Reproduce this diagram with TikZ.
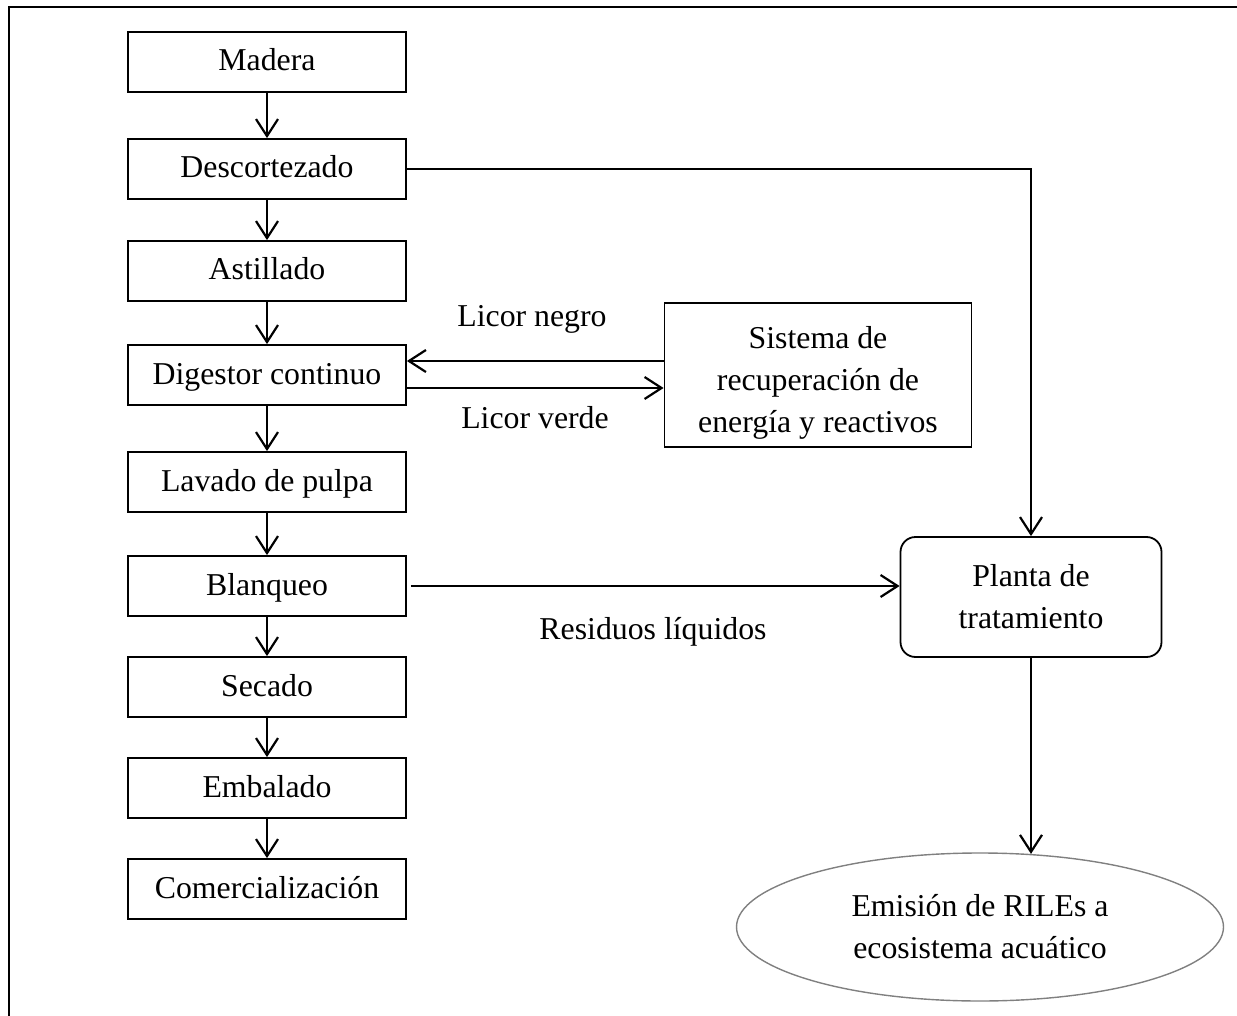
\documentclass[tikz,border=0pt]{standalone}
\usepackage{fontspec}
\setmainfont{Liberation Serif}
\usetikzlibrary{arrows.meta,shapes.geometric,calc}
\definecolor{ellgray}{RGB}{128,128,128}
\begin{document}
\begin{tikzpicture}[x=0.5pt,y=-0.5pt,
  every node/.style={font=\fontsize{15.9pt}{21pt}\selectfont},
  stepbox/.style={draw,line width=0.9pt,minimum width=139pt,minimum height=30pt,inner sep=0pt,text height=11pt,text depth=2pt},
  bigbox/.style={draw,line width=0.9pt,inner sep=0pt,align=center},
  arr/.style={line width=1.1pt,-{Straight Barb[length=8.5pt,width=11pt,line width=1.1pt]}},
  lbl/.style={anchor=base,inner sep=0pt}]
\useasboundingbox (0,0) rectangle (1237,1016);
\draw[line width=1pt] (9,1016) -- (9,7) -- (1237,7);

\node[stepbox] (mad) at (267,62) {Madera};
\node[stepbox] (desc) at (267,169) {Descortezado};
\node[stepbox] (ast) at (267,271) {Astillado};
\node[stepbox] (dig) at (267,375) {Digestor continuo};
\node[stepbox] (lav) at (267,482) {Lavado de pulpa};
\node[stepbox] (bla) at (267,586) {Blanqueo};
\node[stepbox] (sec) at (267,687) {Secado};
\node[stepbox] (emb) at (267,788) {Embalado};
\node[stepbox] (com) at (267,889) {Comercialización};

\node[bigbox,minimum width=153.5pt,minimum height=72pt] (sis) at (818,375)
  {\rule{0pt}{19pt}Sistema de\\recuperación de\\energía y reactivos};
\node[bigbox,rounded corners=7.5pt,minimum width=130.5pt,minimum height=60pt] (pla) at (1031,597)
  {Planta de\\tratamiento};
\node[ellipse,draw=ellgray,line width=0.7pt,minimum width=243.5pt,minimum height=74pt,inner sep=0pt,align=center] (ell) at (980,927)
  {Emisión de RILEs a\\ecosistema acuático};

\node[lbl] (ln) at (532,327) {Licor negro};
\node[lbl] (lv) at (535,428) {Licor verde};
\node[lbl] (rl) at (653,639) {Residuos líquidos};

\foreach \a/\b in {mad/desc,desc/ast,ast/dig,dig/lav,lav/bla,bla/sec,sec/emb,emb/com}
  \draw[arr] (\a) -- (\b);

\draw[arr] (desc.east) -| (pla.north);
\draw[arr] ([yshift=7pt]dig.east -| sis.west) -- ([yshift=7pt]dig.east);
\draw[arr] ([yshift=-6.5pt]dig.east) -- ([yshift=-6.5pt]dig.east -| sis.west);
\draw[arr] ([xshift=2pt]bla.east) -- (bla.east -| pla.west);
\draw[arr] (pla.south) -- ([yshift=-0.8pt]pla.south |- ell.north);
\end{tikzpicture}
\end{document}
